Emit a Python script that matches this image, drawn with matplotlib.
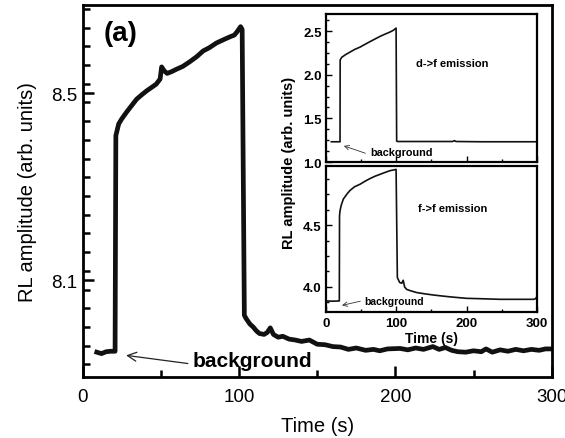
import matplotlib.pyplot as plt
from matplotlib.ticker import MultipleLocator

plt.rcParams['font.family'] = ['Liberation Sans', 'DejaVu Sans']

# main trace: RL amplitude vs time
t_main = [9, 12, 15, 18, 20.7, 21.2, 23, 25, 28, 31, 34.5, 38, 41, 44, 47, 49.5,
          50.5, 52, 54, 57, 60, 64, 68.5, 73, 77, 81, 85.5, 90, 94, 97, 98.5, 101,
          102, 103.4, 104.5, 107, 109, 111, 113, 116, 118, 120, 122, 125, 128, 132,
          136, 140, 145, 150, 155, 160, 165, 170, 175, 181, 186, 190, 195, 203, 208,
          213, 218, 224, 228, 232, 236, 240, 245, 250, 255, 258, 262, 267, 272, 277,
          282, 287, 292, 296, 300]
rl_main = [7.946, 7.943, 7.947, 7.948, 7.948, 8.409, 8.434, 8.445, 8.459, 8.472,
           8.487, 8.497, 8.505, 8.512, 8.519, 8.530, 8.556, 8.548, 8.542, 8.546,
           8.551, 8.557, 8.567, 8.578, 8.590, 8.597, 8.607, 8.614, 8.620, 8.624,
           8.630, 8.642, 8.636, 8.025, 8.018, 8.006, 8.000, 7.992, 7.986, 7.984,
           7.988, 7.998, 7.984, 7.978, 7.980, 7.974, 7.972, 7.969, 7.972, 7.963,
           7.962, 7.958, 7.957, 7.952, 7.955, 7.950, 7.952, 7.949, 7.953, 7.954,
           7.951, 7.955, 7.952, 7.958, 7.952, 7.956, 7.950, 7.947, 7.946, 7.949,
           7.947, 7.953, 7.946, 7.951, 7.948, 7.952, 7.949, 7.952, 7.950, 7.953,
           7.953]

# inset, d->f emission
t_df = [8, 20.3, 20.5, 22.7, 28, 34.5, 41, 48.7, 56, 62.9, 70, 77.1, 84, 91.3, 96,
        99.9, 100.7, 102, 120, 150, 180, 182.7, 185, 220, 260, 300]
rl_df = [1.232, 1.232, 2.17, 2.20, 2.23, 2.26, 2.29, 2.317, 2.35, 2.38, 2.41, 2.44,
         2.465, 2.49, 2.51, 2.535, 1.24, 1.235, 1.235, 1.235, 1.235, 1.245, 1.235,
         1.232, 1.232, 1.232]

# inset, f->f emission
t_ff = [0.5, 10, 19.3, 19.6, 20.3, 22, 25, 30, 34.5, 41, 48.7, 56, 62.9, 70, 77.1,
        84, 91.3, 96, 99.9, 101.7, 105, 108, 110, 112, 115, 120, 129, 140, 152.6,
        165, 176.6, 190, 200, 220, 247.6, 270, 295, 298, 299.5]
rl_ff = [3.887, 3.885, 3.887, 4.575, 4.616, 4.66, 4.71, 4.75, 4.78, 4.81, 4.83,
         4.855, 4.876, 4.895, 4.91, 4.925, 4.94, 4.945, 4.95, 4.076, 4.036, 4.03,
         4.054, 4.00, 3.98, 3.97, 3.955, 3.945, 3.935, 3.927, 3.92, 3.913, 3.908,
         3.905, 3.90, 3.90, 3.90, 3.905, 3.92]

fig = plt.figure(figsize=(5.65, 4.39), dpi=100)
ax = fig.add_axes([0.1464, 0.139, 0.830, 0.847])
ax.plot(t_main, rl_main, color='#111111', lw=3.4, solid_joinstyle='round')
ax.set_xlim(0, 300)
ax.set_ylim(7.893, 8.688)
ax.set_xticks([0, 100, 200, 300])
ax.xaxis.set_minor_locator(MultipleLocator(50))
ax.set_yticks([8.1, 8.5])
ax.yaxis.set_minor_locator(MultipleLocator(0.04))
ax.tick_params(which='both', direction='in', width=1.8, labelsize=13.5)
ax.tick_params(which='major', length=8)
ax.tick_params(which='minor', length=5)
ax.tick_params(axis='x', pad=8)
ax.tick_params(axis='y', pad=4)
for s in ax.spines.values():
    s.set_linewidth(2.0)
ax.set_xlabel('Time (s)', fontsize=14.5, labelpad=8)
ax.set_ylabel('RL amplitude (arb. units)', fontsize=14.5, labelpad=10)
ax.text(0.045, 0.96, '(a)', transform=ax.transAxes, fontsize=20,
        fontweight='bold', va='top', ha='left')
ax.annotate('', xy=(26, 7.940), xytext=(69, 7.921),
            arrowprops=dict(arrowstyle='->', lw=0.9, mutation_scale=16, color='#222222'))
ax.text(70.5, 7.928, 'background', fontsize=15, fontweight='bold', va='center', ha='left')

# inset panels
ax1 = fig.add_axes([0.5765, 0.6287, 0.374, 0.3378])
ax2 = fig.add_axes([0.5765, 0.2877, 0.374, 0.3326])
for a in (ax1, ax2):
    a.set_xlim(0, 300)
    a.xaxis.set_major_locator(MultipleLocator(100))
    a.xaxis.set_minor_locator(MultipleLocator(50))
    a.yaxis.set_major_locator(MultipleLocator(0.5))
    a.yaxis.set_minor_locator(MultipleLocator(0.125))
    a.tick_params(which='both', direction='in', width=1.0, labelsize=9.5)
    a.tick_params(which='major', length=4)
    a.tick_params(which='minor', length=2.5)
    a.tick_params(axis='y', pad=3)
    a.tick_params(axis='x', pad=4)
    for s in a.spines.values():
        s.set_linewidth(1.6)

ax1.plot(t_df, rl_df, color='#111111', lw=1.2)
ax1.set_ylim(1.0, 2.7)
ax1.set_yticks([1.0, 1.5, 2.0, 2.5])
ax1.set_yticklabels(['1.0', '1.5', '2.0', '2.5'], fontweight='bold')
ax1.tick_params(axis='x', labelbottom=False)
ax1.text(0.6, 0.67, 'd->f emission', transform=ax1.transAxes, fontsize=8,
         fontweight='bold', ha='center', va='center')
ax1.annotate('', xy=(22, 1.195), xytext=(60, 1.09),
             arrowprops=dict(arrowstyle='->', lw=0.6, mutation_scale=8, color='#333333'))
ax1.text(63, 1.12, 'background', fontsize=7.8, fontweight='bold', va='center', ha='left')

ax2.plot(t_ff, rl_ff, color='#111111', lw=1.2)
ax2.set_ylim(3.8, 4.98)
ax2.set_yticks([4.0, 4.5])
ax2.set_yticklabels(['4.0', '4.5'], fontweight='bold')
ax2.set_xticks([0, 100, 200, 300])
ax2.set_xticklabels(['0', '100', '200', '300'], fontweight='bold')
ax2.set_xlabel('Time (s)', fontsize=10, fontweight='bold', labelpad=1)
ax2.text(0.6, 0.71, 'f->f emission', transform=ax2.transAxes, fontsize=8,
         fontweight='bold', ha='center', va='center')
ax2.annotate('', xy=(19.3, 3.846), xytext=(53, 3.89),
             arrowprops=dict(arrowstyle='->', lw=0.6, mutation_scale=8, color='#333333'))
ax2.text(55, 3.885, 'background', fontsize=7.5, fontweight='bold', va='center', ha='left')

fig.text(289 / 565, 1 - 163 / 439, 'RL amplitude (arb. units)', rotation=90,
         fontsize=10.5, fontweight='bold', ha='center', va='center')

fig.savefig('out.png', dpi=100)
